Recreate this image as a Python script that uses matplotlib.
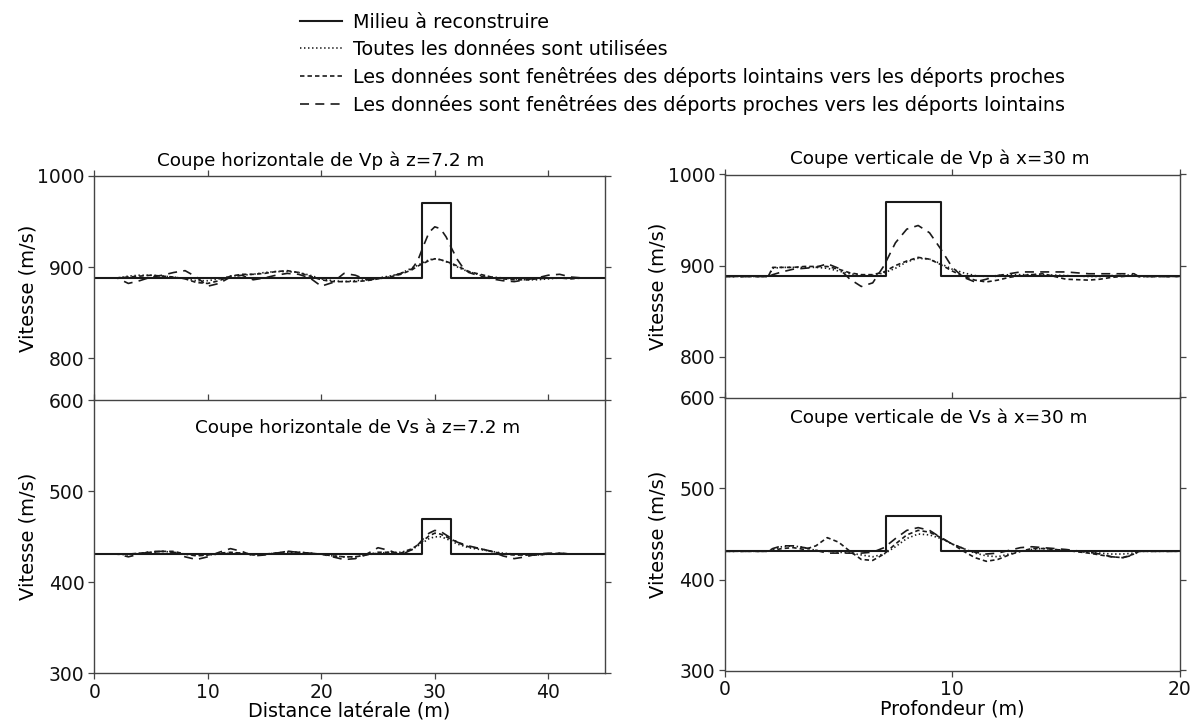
import matplotlib
matplotlib.use("Agg")
import matplotlib.pyplot as plt

plt.rcParams['font.family'] = ['DejaVu Sans']
plt.rcParams['lines.scale_dashes'] = False

# ---------------------------------------------------------------------------
# True model: homogeneous background with a rectangular inclusion
# ---------------------------------------------------------------------------
VP_BACKGROUND, VP_ANOMALY = 888, 970
VS_BACKGROUND, VS_ANOMALY = 431, 470
ANOMALY_X = (28.9, 31.4)      # lateral extent of the inclusion (m)
ANOMALY_Z = (7.1, 9.5)        # depth extent of the inclusion (m)
LATERAL_RANGE = (0, 45)
DEPTH_RANGE = (0, 20)

# ---------------------------------------------------------------------------
# Horizontal sections at z = 7.2 m
# ---------------------------------------------------------------------------
lateral_x = [0, 2, 3, 4, 5, 6, 7, 8, 9, 10, 11, 12, 13, 14, 15, 16, 17, 18, 19,
             20, 21, 22, 23, 24, 25, 26, 27, 28, 28.5, 29, 29.5, 30, 30.5, 31,
             31.5, 32, 32.5, 33, 34, 35, 36, 37, 38, 39, 40, 41, 42, 43, 45]

vp_lat_all = [888, 888, 890, 891, 891, 890, 889, 887, 885, 885, 887, 890, 891,
              892, 894, 895, 895, 894, 891, 887, 885, 884, 885, 886, 888, 890,
              893, 899, 902, 905, 908, 909, 908, 906, 903, 900, 897, 895, 891,
              889, 888, 887, 886, 886, 887, 888, 888, 888, 888]
vp_lat_far = [888, 888, 889, 890, 891, 890, 889, 887, 883, 882, 885, 890, 892,
              892, 893, 895, 896, 894, 890, 886, 884, 884, 884, 885, 887, 889,
              892, 897, 901, 904, 907, 909, 908, 906, 904, 901, 898, 895, 892,
              889, 887, 886, 886, 887, 888, 888, 887, 888, 888]
vp_lat_near = [888, 888, 882, 885, 889, 891, 894, 896, 889, 879, 882, 889, 891,
               886, 888, 891, 893, 892, 888, 879, 883, 893, 891, 886, 887, 889,
               893, 898, 907, 923, 938, 944, 942, 933, 920, 908, 899, 894, 890,
               887, 885, 884, 886, 888, 891, 892, 889, 888, 888]

vs_lat_all = [431, 431, 430, 432, 433, 434, 433, 431, 430, 430, 431, 432, 432,
              431, 431, 432, 433, 433, 432, 431, 429, 428, 428, 430, 432, 433,
              433, 436, 440, 444, 448, 450, 450, 448, 445, 442, 440, 438, 436,
              434, 432, 431, 430, 430, 431, 431, 431, 431, 431]
vs_lat_far = [431, 431, 431, 432, 433, 434, 434, 431, 429, 430, 432, 433, 432,
              430, 431, 432, 434, 433, 432, 431, 429, 428, 428, 430, 433, 433,
              432, 437, 441, 446, 451, 454, 453, 450, 447, 444, 441, 439, 437,
              434, 431, 430, 430, 430, 431, 432, 431, 431, 431]
vs_lat_near = [431, 431, 428, 431, 434, 434, 433, 428, 425, 428, 433, 437, 434,
               429, 430, 432, 434, 433, 432, 431, 428, 425, 426, 431, 438, 435,
               430, 436, 441, 448, 454, 457, 456, 452, 448, 444, 442, 440, 437,
               434, 429, 426, 428, 431, 432, 432, 431, 431, 431]

# ---------------------------------------------------------------------------
# Vertical sections at x = 30 m
# ---------------------------------------------------------------------------
depth_z = [0, 1.9, 2.1, 2.5, 3, 3.5, 4, 4.5, 5, 5.5, 6, 6.5, 7, 7.5, 8, 8.5, 9,
           9.5, 10, 10.5, 11, 11.5, 12, 12.5, 13, 13.5, 14, 15, 16, 16.5, 17,
           17.5, 18, 18.2, 20]

vp_dep_all = [888, 888, 897, 898, 898, 898, 898, 897, 894, 891, 889, 889, 892,
              897, 904, 908, 907, 902, 896, 892, 889, 888, 889, 890, 890, 890,
              890, 889, 888, 888, 889, 889, 890, 888, 888]
vp_dep_far = [888, 888, 898, 898, 898, 899, 899, 899, 896, 892, 890, 890, 893,
              900, 905, 909, 907, 901, 894, 888, 884, 882, 884, 887, 889, 890,
              891, 885, 884, 885, 887, 888, 889, 888, 888]
vp_dep_near = [888, 888, 890, 893, 896, 897, 898, 902, 897, 885, 877, 881, 900,
               925, 940, 944, 936, 918, 898, 887, 882, 885, 889, 891, 893, 893,
               893, 893, 891, 891, 891, 891, 891, 888, 888]

vs_dep_all = [431, 431, 433, 436, 437, 435, 432, 431, 430, 429, 427, 425, 428,
              436, 445, 450, 449, 445, 439, 434, 429, 426, 425, 428, 431, 433,
              434, 432, 430, 429, 428, 428, 429, 431, 431]
vs_dep_far = [431, 431, 432, 434, 435, 433, 437, 446, 441, 431, 422, 421, 428,
              439, 449, 454, 452, 446, 439, 431, 424, 420, 422, 427, 431, 434,
              434, 432, 429, 427, 425, 424, 428, 431, 431]
vs_dep_near = [431, 431, 434, 437, 437, 435, 432, 429, 429, 429, 429, 430, 435,
               445, 454, 457, 454, 446, 439, 434, 430, 428, 429, 432, 435, 436,
               435, 433, 430, 428, 425, 424, 427, 431, 431]

LABELS = ["Milieu à reconstruire",
          "Toutes les données sont utilisées",
          "Les données sont fenêtrées des déports lointains vers les déports proches",
          "Les données sont fenêtrées des déports proches vers les déports lointains"]

INK = "#1a1a1a"
AXIS_GREY = "#444444"
STYLES = [dict(ls="-", lw=1.5),
          dict(ls=(0, (1.0, 1.9)), lw=1.2),
          dict(ls=(0, (3.2, 2.2)), lw=1.2),
          dict(ls=(0, (6.5, 4.5)), lw=1.2)]

W, H = 1194, 727


def step_profile(span, bounds, background, anomaly):
    lo, hi = span
    a, b = bounds
    return ([lo, a, a, b, b, hi],
            [background, background, anomaly, anomaly, background, background])


def px_rect(left, top, right, bottom):
    return [left / W, 1 - bottom / H, (right - left) / W, (bottom - top) / H]


def draw_panel(ax, true_profile, x, curves):
    lines = [ax.plot(*true_profile, color=INK, **STYLES[0])[0]]
    for values, style in zip(curves, STYLES[1:]):
        lines.append(ax.plot(x, values, color=INK, **style)[0])
    return lines


def style_axes(ax, top_panel):
    for sp in ax.spines.values():
        sp.set_color(AXIS_GREY)
        sp.set_linewidth(1.0)
    ax.tick_params(direction="out", length=4, width=0.9, color=AXIS_GREY,
                   labelsize=13.5, pad=3, top=True, right=True,
                   labeltop=False, labelright=False, labelcolor="#111111")
    if top_panel:
        ax.spines["bottom"].set_visible(False)
        ax.tick_params(bottom=False, labelbottom=False)


fig = plt.figure(figsize=(W / 100, H / 100), dpi=100)

ax_vp_lat = fig.add_axes(px_rect(94.3, 175.7, 605, 400.3))
ax_vp_dep = fig.add_axes(px_rect(725, 174.5, 1179.5, 398.5))
ax_vs_lat = fig.add_axes(px_rect(94.3, 400.3, 605, 673.3))
ax_vs_dep = fig.add_axes(px_rect(725, 397.5, 1179.5, 670.5))

handles = draw_panel(ax_vp_lat,
                     step_profile(LATERAL_RANGE, ANOMALY_X, VP_BACKGROUND, VP_ANOMALY),
                     lateral_x, [vp_lat_all, vp_lat_far, vp_lat_near])
draw_panel(ax_vp_dep,
           step_profile(DEPTH_RANGE, ANOMALY_Z, VP_BACKGROUND, VP_ANOMALY),
           depth_z, [vp_dep_all, vp_dep_far, vp_dep_near])
draw_panel(ax_vs_lat,
           step_profile(LATERAL_RANGE, ANOMALY_X, VS_BACKGROUND, VS_ANOMALY),
           lateral_x, [vs_lat_all, vs_lat_far, vs_lat_near])
draw_panel(ax_vs_dep,
           step_profile(DEPTH_RANGE, ANOMALY_Z, VS_BACKGROUND, VS_ANOMALY),
           depth_z, [vs_dep_all, vs_dep_far, vs_dep_near])

for ax in (ax_vp_lat, ax_vp_dep):
    ax.set_ylim(754, 1000)
    ax.set_yticks([800, 900, 1000])
    style_axes(ax, True)
for ax in (ax_vs_lat, ax_vs_dep):
    ax.set_ylim(300, 600)
    ax.set_yticks([300, 400, 500, 600])
    style_axes(ax, False)
for ax in (ax_vp_lat, ax_vs_lat):
    ax.set_xlim(*LATERAL_RANGE)
    ax.set_xticks([0, 10, 20, 30, 40])
for ax in (ax_vp_dep, ax_vs_dep):
    ax.set_xlim(*DEPTH_RANGE)
    ax.set_xticks([0, 10, 20])

# axis labels
for ax, xpos in ((ax_vp_lat, -0.112), (ax_vs_lat, -0.112),
                 (ax_vp_dep, -0.126), (ax_vs_dep, -0.126)):
    ax.set_ylabel("Vitesse (m/s)", fontsize=14)
    ax.yaxis.set_label_coords(xpos, 0.5)
ax_vs_lat.set_xlabel("Distance latérale (m)", fontsize=13.8)
ax_vs_dep.set_xlabel("Profondeur (m)", fontsize=13.8)
ax_vs_lat.xaxis.set_label_coords(0.5, -0.105)
ax_vs_dep.xaxis.set_label_coords(0.5, -0.105)

# panel titles
ax_vp_lat.set_title("Coupe horizontale de Vp à z=7.2 m", fontsize=13.2,
                    x=0.444, y=1.045, pad=0)
ax_vp_dep.set_title("Coupe verticale de Vp à x=30 m", fontsize=13.2,
                    x=0.473, y=1.045, pad=0)
ax_vs_lat.text(0.516, 0.901, "Coupe horizontale de Vs à z=7.2 m", fontsize=13.2,
               ha="center", va="center", transform=ax_vs_lat.transAxes)
ax_vs_dep.text(0.471, 0.927, "Coupe verticale de Vs à x=30 m", fontsize=13.2,
               ha="center", va="center", transform=ax_vs_dep.transAxes)

fig.legend(handles, LABELS, loc="upper left",
           bbox_to_anchor=(300 / W, 1 - 13 / H), frameon=False, fontsize=13.8,
           handlelength=2.2, handletextpad=0.58, labelspacing=0.42,
           borderpad=0, borderaxespad=0)

fig.savefig("out.png", dpi=100)
